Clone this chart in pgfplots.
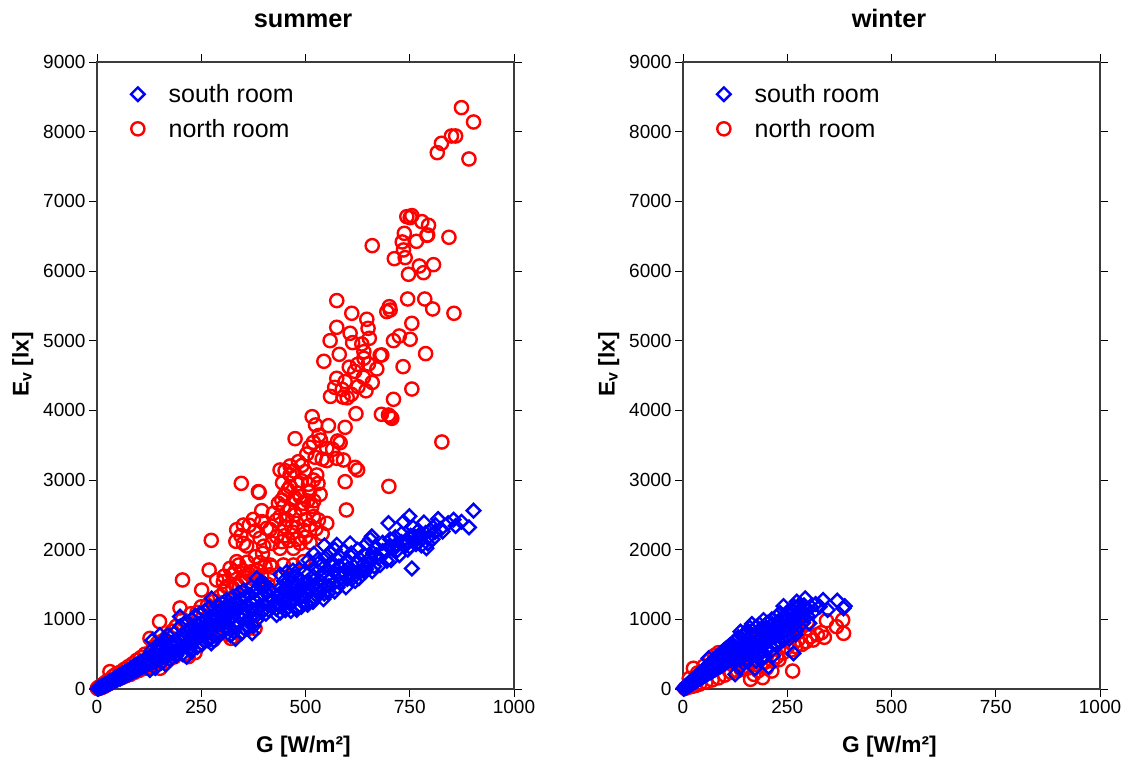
\documentclass[border=0pt]{standalone}
\usepackage{pgfplots}
\pgfplotsset{compat=1.18}
\usepackage{fontspec}
\setmainfont{Liberation Sans}
\definecolor{axgrey}{HTML}{3C3C3C}
\pgfplotsset{
  panel/.style={
    scale only axis, width=417pt, height=627pt,
    xmin=0, xmax=1000, ymin=0, ymax=9000,
    xtick={0,250,500,750,1000}, ytick={0,1000,...,9000},
    tick align=outside, tick pos=both,
    xticklabel pos=lower, yticklabel pos=left,
    major tick length=8pt,
    tick style={black, line width=0.9pt},
    axis line style={axgrey, line width=1.2pt},
    axis on top=true, clip=false,
    tick label style={font=\fontsize{19}{21}\selectfont},
    /pgf/number format/assume math mode=true,
    /pgf/number format/set thousands separator={},
    xlabel={\bfseries G [W/m²]}, ylabel={\bfseries E\textsubscript{v} [lx]},
    label style={font=\fontsize{22.7}{25}\selectfont},
    xlabel style={yshift=-15pt, xshift=-2pt}, ylabel style={yshift=3pt, xshift=11pt},
    title style={font=\fontsize{25.3}{27}\selectfont\bfseries, yshift=25pt, xshift=-2.5pt},
    legend style={at={(0.074,0.971)}, anchor=north west, draw=none, fill=none,
      font=\fontsize{25}{27}\selectfont, row sep=11pt,
      /tikz/every odd column/.append style={column sep=22pt}},
    legend cell align=left,
  },
  bluem/.style={only marks, mark=square, mark size=4.8pt, mark options={blue, line width=2.4pt, fill=none, solid, rotate=45}, blue},
  redm/.style={only marks, mark=o, mark size=6.6pt, mark options={red, line width=2.4pt, fill=none, solid}, red},
}
\begin{document}
\begin{tikzpicture}[x=1pt,y=1pt]
\path[use as bounding box] (0,0) rectangle (1125,757);
\begin{axis}[panel, at={(97pt,68pt)}, anchor=south west, title={summer}]
\addlegendimage{bluem}\addlegendentry{south room}
\addlegendimage{redm}\addlegendentry{north room}
\addplot[redm, forget plot] coordinates {
(874,8345)(903,8139)(826,7833)(816,7699)(850,7938)(860,7938)(892,7608)(743,6780)(755,6795)(751,6766)(779,6709)(795,6656)(791,6512)(793,6517)(844,6484)(737,6541)(732,6417)(766,6426)(660,6364)(735,6302)(713,6177)(739,6192)(773,6072)(807,6091)(783,5976)(747,5953)(575,5575)(745,5598)(786,5598)(805,5455)(856,5393)(701,5488)(703,5440)(695,5417)(611,5393)(647,5307)(650,5177)(575,5192)(755,5249)(607,5106)(559,5000)(613,4972)(653,5034)(635,4952)(725,5067)(711,5000)(751,5020)(581,4804)(640,4842)(679,4790)(683,4795)(788,4814)(544,4704)(640,4747)(625,4660)(651,4665)(671,4594)(734,4627)(575,4460)(595,4412)(639,4474)
(755,4306)(711,4158)(682,3943)(699,3933)(707,3885)(703,3909)(621,3952)(516,3909)(595,3756)(555,3780)(524,3790)(827,3546)(475,3594)(519,3541)(536,3574)(577,3560)(583,3536)(551,3455)(503,3373)(523,3326)(575,3311)(591,3287)(551,3278)(483,3263)(463,3201)(439,3144)(451,3134)(463,3072)(499,3120)(527,3072)(619,3182)(625,3144)(519,3000)(507,2938)(595,2976)(700,2909)(346,2952)(387,2833)(389,2823)(463,2904)(535,2794)(483,2809)(487,2761)(471,2713)(443,2713)(435,2665)(447,2617)(495,2665)(515,2617)(395,2560)(598,2570)(423,2522)(439,2474)(463,2570)(375,2435)(351,2354)(335,2287)(395,2402)(407,2306)(531,2426)(551,2378)(519,2474)(479,2378)(467,2330)(495,2282)(333,2120)(351,2091)(359,2053)(391,2163)(431,2187)(443,2115)(439,2019)(471,2019)(487,2091)(511,2101)(274,2134)(397,1947)(335,1828)(319,1732)(331,1684)(391,1813)(403,1756)(371,1684)(269,1708)(205,1565)(287,1565)(251,1421)(303,1540)(311,1469)(199,1163)(150,967)(415,1780)(447,1780)(471,1780)(495,1828)
(600,4180)(560,4200)(588,4300)(610,4230)(626,4340)(570,4330)(590,4190)(618,4560)(605,4620)(660,4400)(645,4280)(532,3640)(510,3470)(540,3300)(565,3440)(492,3210)(472,3130)(490,2990)(445,2960)(480,2940)(458,2860)(450,2780)(475,2740)(505,2700)(510,2830)(530,2950)(520,2700)(490,2590)(475,2500)(455,2430)(450,2330)(430,2420)(500,2430)(510,2350)(525,2300)(540,2230)(450,2200)(470,2250)(480,2150)(500,2180)(460,2130)(415,2290)(380,2270)(365,2350)(345,2200)(400,2050)(420,2090)(380,1900)(360,1820)(340,1780)(325,1640)(305,1620)(350,1700)(380,1600)(415,1640)
(1,10)(3,5)(5,30)(8,15)(10,45)(13,25)(15,70)(18,40)(20,95)(24,60)(26,120)(30,80)(31,249)(35,100)(38,180)(42,130)(45,210)(50,150)(55,240)(60,165)(65,280)(70,190)(75,320)(80,210)(85,360)(90,240)(95,410)(100,265)(105,450)(110,290)(115,500)(120,300)(127,727)(130,300)(135,600)(140,340)(145,660)(151,297)(155,400)(160,700)(165,390)(170,760)(175,440)(180,830)(185,460)(190,900)(205,1000)(210,500)(219,464)(225,1080)(235,522)(240,1100)(250,1180)(260,700)(265,1200)(279,703)(280,1260)(285,760)(295,1330)(300,1100)(305,1400)(315,780)(321,727)(325,1450)(335,1500)(340,800)(345,1550)(355,1600)(360,860)(365,1650)(375,1580)(379,871)(385,1700)(395,1620)(410,1500)(420,1750)
};
\addplot[bluem, forget plot] coordinates {
(1,5)(2,10)(3,8)(4,15)(5,12)(6,20)(8,22)(9,30)(10,25)(12,40)(13,32)(15,48)(16,38)(18,60)(20,50)(22,75)(24,62)(26,90)(28,70)(30,105)(32,85)(34,120)(36,95)(38,130)(40,105)(42,150)(44,120)(46,165)(48,130)(50,175)
(52,145)(54,195)(56,150)(58,205)(60,165)(62,225)(64,175)(66,240)(68,190)(70,250)(72,200)(74,270)(76,215)(78,285)(80,225)(82,300)(85,240)(87,320)(90,255)(92,340)(95,270)(97,360)(100,285)(100,330)
(103,300)(105,395)(108,310)(110,350)(112,410)(115,325)(118,440)(120,345)(122,395)(125,360)(128,470)(130,375)(132,430)(135,390)(138,510)(140,400)(142,460)(145,415)(148,560)(150,430)(150,640)(152,500)(155,445)(158,590)(160,460)(162,530)(165,475)(168,620)(170,490)(172,560)(175,505)(178,660)(180,520)(182,600)(185,530)(188,700)(190,545)(192,640)(195,560)(198,740)(200,575)(203,680)(205,790)(207,600)(210,720)(213,620)(215,830)(218,650)(220,760)(222,870)(225,660)(225,540)(228,800)(230,680)(233,900)(235,700)(238,830)(240,720)(243,930)(245,750)(248,860)(250,770)(252,960)(255,790)(258,900)(260,1000)
(262,800)(265,940)(268,830)(270,1030)(272,720)(275,1300)(276,870)(278,980)(280,770)(283,1080)(285,900)(288,1010)(290,810)(293,1120)(295,930)(298,1050)(300,840)(303,1160)(305,960)(308,1080)(310,860)(313,1190)(315,990)(318,1110)(320,770)(323,1220)(325,1020)(328,820)(330,1140)(333,900)(335,1260)(338,1050)(340,950)(343,1170)(345,1290)(348,1000)(350,1080)(353,870)(355,1320)(358,1200)(360,980)(363,1110)(365,1350)(368,1020)(370,1240)(373,1140)(375,900)(378,1400)(380,1270)(383,1060)(385,1440)(388,1170)(390,1310)(392,1500)(395,1100)(398,1350)(400,1220)(402,1470)(405,1080)(408,1380)(410,1270)(412,1130)(415,1430)
(430,1150)(432,1250)(435,1200)(437,1340)(440,1640)(440,1450)(443,1180)(445,1300)(448,1550)(450,1250)(452,1400)(455,1680)(458,1320)(460,1480)(463,1220)(465,1590)(468,1380)(470,1700)(473,1290)(475,1500)(478,1620)(480,1170)(483,1420)(485,1720)(488,1330)(490,1560)(493,1250)(495,1460)(498,1680)(500,1380)(502,1230)(505,1550)(507,1850)(510,1420)(512,1780)(515,1280)(518,1620)(520,1940)(522,1480)(525,1720)(528,1330)(530,1860)(533,1560)(535,1400)(538,1780)(540,1650)(545,2060)(545,1370)(548,1880)(550,1480)(552,1720)(555,1380)(558,1960)(560,1590)(563,1820)(565,1500)(568,1680)(570,2000)(575,2070)(577,1460)(580,1760)(582,1900)(585,1600)(590,1980)(592,1680)(597,1460)(600,1850)(603,1730)(607,2090)(610,1950)(615,1600)(619,1550)(622,1800)(625,2000)(630,1870)(635,1700)(640,1930)(643,1680)(647,2090)(650,1790)(655,2150)(659,2190)(662,1950)(665,1760)(670,2030)(675,1880)(679,1780)(685,2100)(690,1960)(695,1840)(699,2380)(703,2150)(705,1850)(710,2000)(715,2180)(720,2070)(725,1920)(730,2230)(735,2400)(738,2050)(742,2120)(745,2000)(749,2480)(752,2200)(755,1730)(758,2320)(762,2130)(768,2260)(772,2170)(778,2060)(784,2390)(788,2240)(790,2020)(793,2090)(800,2280)(805,2150)(812,2350)(818,2440)(825,2300)(829,2260)(842,2380)(855,2430)(860,2340)(874,2400)(892,2320)(903,2560)
(240,850)(260,880)(285,1000)(310,1040)(335,980)(355,1150)(375,1300)(395,1450)(420,1300)(425,1200)(440,1380)(460,1560)(475,1380)(490,1440)(505,1460)(520,1560)(535,1480)(550,1600)(565,1760)(580,1640)(595,1780)(610,1720)(625,1680)(640,1800)(655,1880)(670,1920)(685,1980)(700,2040)(715,2060)(730,2110)(745,2130)(760,2200)(775,2200)(795,2180)(810,2250)(750,2040)(765,2080)(720,1990)
(127,273)(130,550)(133,700)(140,300)(143,620)(151,775)(155,380)(160,690)(165,350)(170,770)(175,420)(185,800)(190,480)(199,1038)(200,900)(205,500)(212,960)(215,464)(222,580)(228,1000)(235,1050)(240,600)(246,1080)(252,640)(258,1120)(265,700)(270,1170)(274,655)(280,700)(288,1200)(295,780)(300,1230)(310,1280)(318,860)(325,1320)(332,720)(340,1380)(347,800)(352,1420)(362,880)(370,1470)(372,800)(383,990)(383,1589)(394,1540)(404,1500)(412,1340)(418,1280)(431,1062)(440,1100)(452,1130)(465,1120)(479,1134)(490,1180)(505,1210)(518,1250)(530,1430)(543,1290)(556,1480)(570,1400)(583,1520)(600,1580)(612,1640)(628,1590)(645,1720)(660,1690)
};
\end{axis}
\begin{axis}[panel, at={(683pt,68pt)}, anchor=south west, title={winter}]
\addlegendimage{bluem}\addlegendentry{south room}
\addlegendimage{redm}\addlegendentry{north room}
\addplot[redm, forget plot] coordinates {
(263,258)(162,139)(191,163)(213,258)(385,799)(339,742)(332,809)(368,895)(383,990)(344,981)(312,703)(121,608)(85,522)(25,297)(225,464)(170,210)(200,300)(180,260)(150,330)(140,280)(240,520)(250,600)(270,610)(285,640)(295,680)(305,750)(322,780)(275,700)(260,560)(230,420)(215,400)(195,380)(175,350)(155,300)(130,260)(115,240)(100,200)(85,160)(70,130)(55,100)(40,70)(30,50)(20,35)(10,20)(5,10)(15,150)(35,230)(50,330)(65,420)(75,480)(95,490)(110,570)(130,600)(150,640)(170,690)(190,750)(210,790)(235,840)(255,880)(280,900)(298,960)
};
\addplot[bluem, forget plot] coordinates {
(1,5)(2,15)(3,8)(4,25)(5,15)(6,40)(8,25)(9,55)(10,35)(12,70)(13,45)(15,90)(16,55)(18,110)(20,70)(22,130)(24,85)(26,150)(28,100)(30,175)(32,115)(34,195)(36,130)(38,215)(40,145)(42,235)(44,160)(46,255)(48,175)(50,280)(52,190)(54,305)(56,205)(58,330)(60,220)(61,440)(63,350)(65,235)(67,375)(69,250)(71,400)(73,265)(75,425)(77,280)(79,450)(81,295)(83,475)(85,310)(88,500)(90,325)(92,525)(95,345)(97,550)(100,365)(102,575)(105,385)(107,600)(110,405)(112,625)(115,425)(118,650)(120,445)(122,680)(125,465)(128,710)(130,485)(133,740)(135,505)(138,823)(140,525)(143,770)(145,545)(148,800)(150,420)(152,570)(155,840)(158,600)(160,880)(163,630)(165,933)(167,480)(170,660)(172,297)(175,890)(178,690)(180,520)(183,930)(186,720)(189,430)(193,990)(196,760)(199,560)(202,950)(205,320)(207,800)(210,610)(213,1000)(216,478)(218,830)(221,650)(224,1040)(227,870)(230,690)(233,1090)(237,900)(241,1191)(244,730)(247,1000)(250,940)(253,1120)(256,780)(259,1060)(262,980)(265,512)(267,1180)(270,830)(273,1254)(276,1100)(279,900)(282,1210)(285,1020)(288,950)(293,1301)(296,1150)(299,1050)(303,943)(307,1180)(312,1100)(318,1220)(328,1182)(336,1278)(347,1134)(370,1268)(385,1158)(388,1190)
(110,510)(125,560)(140,620)(155,700)(170,760)(185,830)(200,870)(215,930)(230,980)(245,1050)(260,1130)(275,1180)(290,1200)(150,500)(165,560)(180,610)(195,670)(210,720)(225,780)(240,820)(255,870)(270,950)(285,1100)(130,420)(145,470)(160,520)(175,590)(190,650)(205,690)(220,740)(235,800)(250,850)(265,900)(280,1000)
(125,210)(135,300)(145,370)(155,430)(165,480)(175,400)(185,500)(195,480)(210,540)(225,620)(240,700)(255,720)(270,780)(70,300)(80,350)(90,390)(100,430)(110,480)(120,500)(130,540)(140,440)(150,600)(160,650)(170,720)(180,780)(190,850)(200,800)(215,870)(230,920)(245,960)
};
\end{axis}
\end{tikzpicture}
\end{document}
